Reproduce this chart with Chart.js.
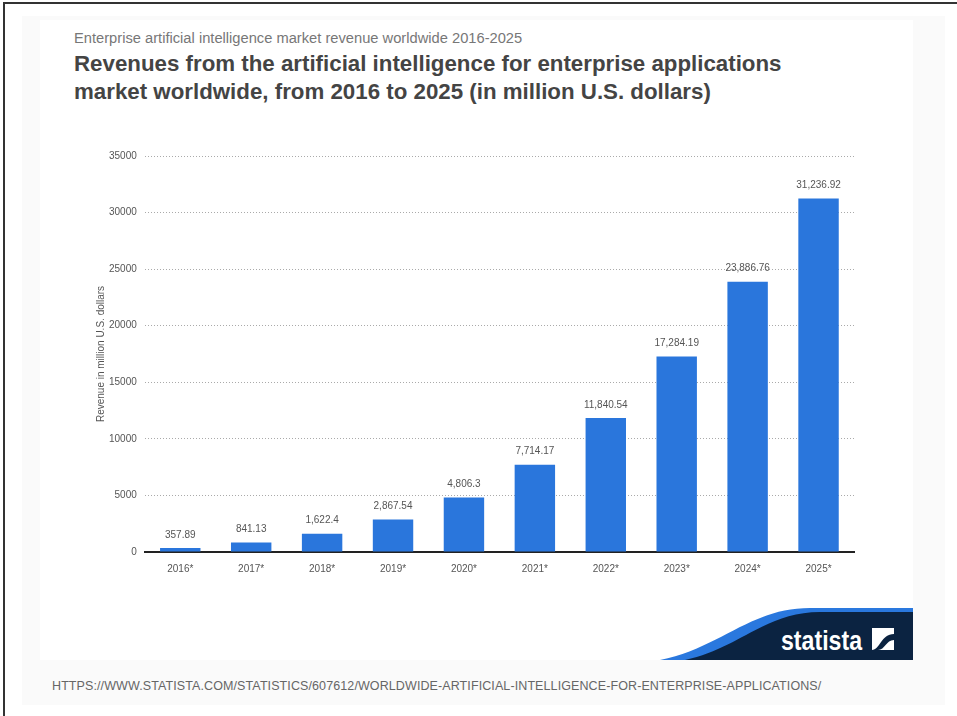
<!DOCTYPE html>
<html>
<head>
<meta charset="utf-8">
<script src="https://cdn.jsdelivr.net/npm/chart.js@4.4.1/dist/chart.umd.min.js"></script>
<style>
    html, body { margin: 0; padding: 0; background: #fff; }
    body { width: 957px; height: 716px; position: relative; overflow: hidden; font-family: "Liberation Sans", Arial, sans-serif; }
    .frame { position: absolute; left: 3px; top: 2px; width: 954px; height: 714px; border-top: 2px solid #333; border-left: 2px solid #333; box-sizing: border-box; }
    .card { position: absolute; left: 22px; top: 16px; width: 923px; height: 689px; background: #fafafa; }
    .inner { position: absolute; left: 40px; top: 20px; width: 873px; height: 640px; background: #fff; }
    .sub { position: absolute; left: 74px; top: 30px; font-size: 14.7px; color: #777; }
    .title { position: absolute; left: 74px; top: 50px; font-size: 22.3px; line-height: 28px; font-weight: bold; color: #444; }
    .url { position: absolute; left: 52px; top: 679px; font-size: 12.5px; color: #666; letter-spacing: 0.1px; }
    #wrap { position: absolute; left: 40px; top: 140px; width: 873px; height: 440px; }
    .logo { position: absolute; left: 640px; top: 600px; }
</style>
</head>
<body>
<div class="frame"></div>
<div class="card"></div>
<div class="inner"></div>
<div class="sub">Enterprise artificial intelligence market revenue worldwide 2016-2025</div>
<div class="title">Revenues from the artificial intelligence for enterprise applications<br>market worldwide, from 2016 to 2025 (in million U.S. dollars)</div>
<div id="wrap"><canvas id="chart"></canvas></div>
<svg class="logo" width="273" height="60" viewBox="0 0 273 60">
    <path d="M20,60 C80,48 110,8 170,8 L273,8 L273,60 Z" fill="#2a78de"/>
    <path d="M45,60 C100,48 125,12 180,12 L273,12 L273,60 Z" fill="#0b2341"/>
    <text x="141" y="50" fill="#fff" font-family="Liberation Sans Narrow, Liberation Sans, sans-serif" font-weight="bold" font-size="28" textLength="81" lengthAdjust="spacingAndGlyphs">statista</text>
    <rect x="232" y="28" width="22" height="22" fill="#fff"/>
    <path d="M232,50 C240,50 241,34 254,34 L254,40 C246,40 245,50 238,50 Z" fill="#0b2341"/>
</svg>
<div class="url">HTTPS://WWW.STATISTA.COM/STATISTICS/607612/WORLDWIDE-ARTIFICIAL-INTELLIGENCE-FOR-ENTERPRISE-APPLICATIONS/</div>

<script>
    var years = ['2016*', '2017*', '2018*', '2019*', '2020*', '2021*', '2022*', '2023*', '2024*', '2025*'];
    var revenue = [357.89, 841.13, 1622.4, 2867.54, 4806.3, 7714.17, 11840.54, 17284.19, 23886.76, 31236.92];
    var yTicks = [0, 5000, 10000, 15000, 20000, 25000, 30000, 35000];

    // values above the bars
    var valueLabels = {
        id: 'valueLabels',
        afterDatasetsDraw: function (chart) {
            var ctx = chart.ctx;
            var meta = chart.getDatasetMeta(0);
            ctx.save();
            ctx.font = '10px "Liberation Sans", Arial, sans-serif';
            ctx.fillStyle = '#555';
            ctx.textAlign = 'center';
            ctx.textBaseline = 'bottom';
            meta.data.forEach(function (bar, i) {
                var txt = revenue[i].toLocaleString('en-US', {maximumFractionDigits: 2});
                ctx.fillText(txt, bar.x, bar.y - 8);
            });
            ctx.restore();
        }
    };

    var ctx = document.getElementById('chart');
    var chart = new Chart(ctx, {
        type: 'bar',
        data: {
            labels: years,
            datasets: [{
                data: revenue,
                backgroundColor: '#2a76dc',
                barPercentage: 0.57,
                categoryPercentage: 1,
            }]
        },
        options: {
            responsive: true,
            maintainAspectRatio: false,
            animation: false,
            layout: {padding: {left: 51, right: 59, top: 16, bottom: 2}},
            plugins: {
                legend: {display: false},
                tooltip: {enabled: false},
            },
            scales: {
                x: {
                    grid: {display: false},
                    border: {display: true, color: '#222', width: 2},
                    ticks: {color: '#555', font: {size: 10, family: '"Liberation Sans", Arial'}, padding: 3},
                },
                y: {
                    min: 0,
                    max: 35000,
                    afterBuildTicks: function (axis) {
                        axis.ticks = yTicks.map(function (v) { return {value: v}; });
                    },
                    border: {display: false, dash: [1, 2]},
                    grid: {
                        color: function (c) { return c.tick.value === 0 ? 'rgba(0,0,0,0)' : '#aaa'; },
                        drawTicks: false,
                        lineWidth: 1,
                    },
                    ticks: {
                        color: '#555',
                        padding: 8,
                        font: {size: 10, family: '"Liberation Sans", Arial'},
                        callback: function (v) { return String(v); },
                    },
                    title: {
                        display: true,
                        text: 'Revenue in million U.S. dollars',
                        color: '#555',
                        font: {size: 10, family: '"Liberation Sans", Arial'},
                        padding: {top: 4, bottom: -6},
                    },
                },
            },
        },
        plugins: [valueLabels],
    });
</script>
</body>
</html>
